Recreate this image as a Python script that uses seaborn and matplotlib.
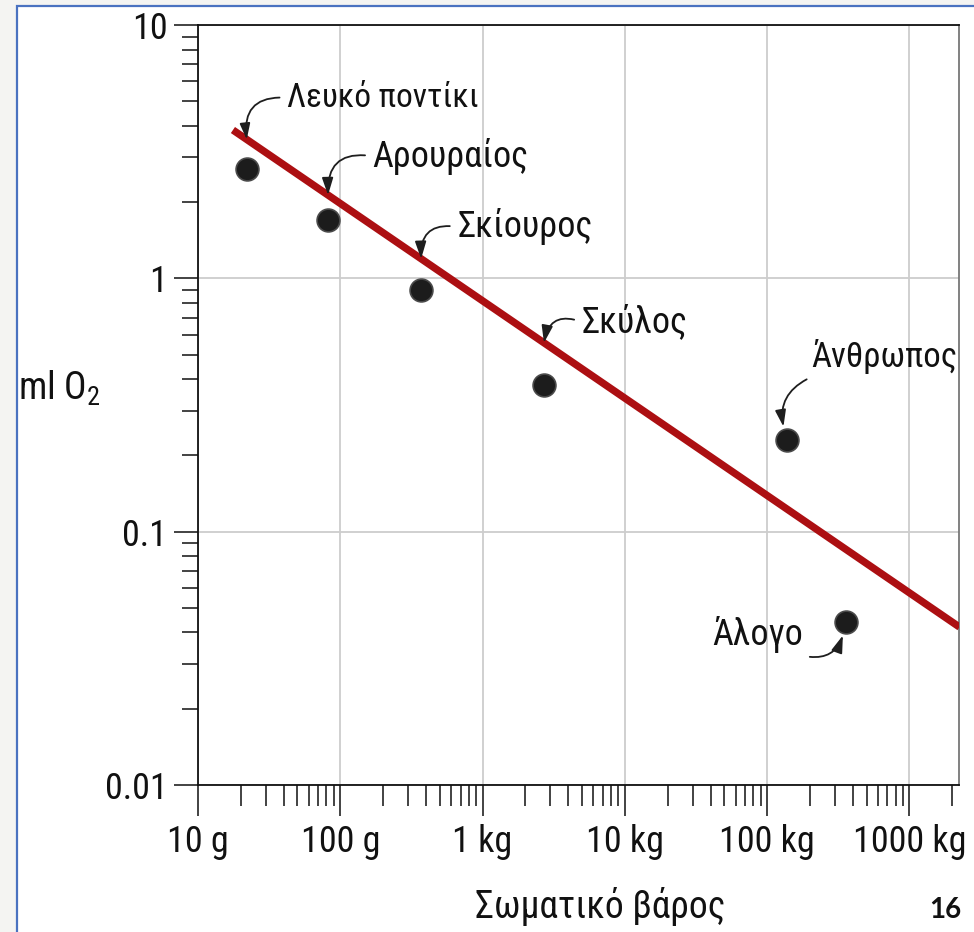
import numpy as np
import matplotlib
matplotlib.use('Agg')
import matplotlib.pyplot as plt
import matplotlib.ticker as mticker
from matplotlib.patches import Rectangle
import pandas as pd
import seaborn as sns

# data (mass in kg, oxygen in ml)
animals = ['Λευκό ποντίκι', 'Αρουραίος', 'Σκίουρος', 'Σκύλος', 'Άνθρωπος', 'Άλογο']
mass_kg = [0.022, 0.082, 0.37, 2.7, 138, 360]
o2_ml = [2.7, 1.7, 0.9, 0.38, 0.23, 0.044]

# red trend line end points
line_mass = [0.0176, 2250]
line_o2 = [3.85, 0.042]

xticks = [0.01, 0.1, 1, 10, 100, 1000]
xlabels = ['10 g', '100 g', '1 kg', '10 kg', '100 kg', '1000 kg']
yticks = [0.01, 0.1, 1, 10]
ylabels = ['0.01', '0.1', '1', '10']

df = pd.DataFrame({'animal': animals, 'mass': mass_kg, 'o2': o2_ml})
fit = pd.DataFrame({'mass': line_mass, 'o2': line_o2})

sns.set_style('ticks')
plt.rcParams['font.family'] = ['Roboto Condensed', 'Liberation Sans', 'DejaVu Sans']
plt.rcParams['mathtext.fontset'] = 'custom'
plt.rcParams['mathtext.rm'] = 'Roboto Condensed'

fig = plt.figure(figsize=(9.74, 9.32), dpi=100, facecolor='#f4f4f2')
fig.patches.append(Rectangle((17 / 974, -0.2), 1.3, 1.2 - 6 / 932, transform=fig.transFigure,
                             facecolor='white', edgecolor='#4a72c0', lw=1.6, zorder=-5))
ax = fig.add_axes([198 / 974, 1 - 785 / 932, 761 / 974, 760 / 932])
ax.set_facecolor('white')

sns.lineplot(data=fit, x='mass', y='o2', ax=ax, color='#ac0f12', lw=5.3,
             solid_capstyle='butt', zorder=3)
sns.scatterplot(data=df, x='mass', y='o2', ax=ax, s=270, color='#1c1c1c',
                edgecolor='#4a4a4a', linewidth=1.2, zorder=4)

ax.set_xscale('log')
ax.set_yscale('log')
ax.set_xlim(0.01, 2230)
ax.set_ylim(0.01, 10)
ax.set_xticks(xticks, xlabels)
ax.set_yticks(yticks, ylabels)
ax.xaxis.set_minor_formatter(mticker.NullFormatter())
ax.yaxis.set_minor_formatter(mticker.NullFormatter())
ax.set_xlabel('')
ax.set_ylabel('')

ax.grid(which='major', color='#cdcdcd', lw=1.3)
ax.set_axisbelow(True)
ax.tick_params(which='both', width=1.2, color='#222222', labelsize=26, labelcolor='#111111')
ax.tick_params(axis='y', which='major', length=17, pad=5)
ax.tick_params(axis='y', which='minor', length=11.5)
ax.tick_params(axis='x', which='major', length=22, pad=6)
ax.tick_params(axis='x', which='minor', length=15)
for side in ['left', 'bottom', 'top']:
    ax.spines[side].set_color('#111111')
    ax.spines[side].set_linewidth(1.3)
ax.spines['right'].set_color('#777777')
ax.spines['right'].set_linewidth(1.3)


def line_at(m):
    return 10 ** np.interp(np.log10(m), np.log10(line_mass), np.log10(line_o2))


# label placement: (offset in points, ha, relpos, target on line?, rad, size)
label_style = {
    'Λευκό ποντίκι': ((29, 30), 'left', (0, 0.5), True, 0.6, 24),
    'Αρουραίος': ((32, 28), 'left', (0, 0.5), True, 0.6, 26),
    'Σκίουρος': ((26, 23), 'left', (0, 0.5), True, 0.6, 26),
    'Σκύλος': ((27, 15), 'left', (0, 0.5), True, 0.6, 26),
    'Άνθρωπος': ((70, 60), 'center', (0.05, 0), False, 0.5, 25),
    'Άλογο': ((-64, -9), 'center', (0.9, 0), False, 0.6, 26),
}
for name, m, v in zip(animals, mass_kg, o2_ml):
    off, ha, rel, on_line, rad, size = label_style[name]
    target = (m, line_at(m)) if on_line else (m, v)
    ax.annotate(name, xy=target, xytext=off, textcoords='offset points',
                ha=ha, va='center', fontsize=size, color='#111111', zorder=5,
                arrowprops=dict(arrowstyle='-|>,head_length=0.4,head_width=0.13',
                                color='#1e1e1e', lw=1.3, relpos=rel,
                                shrinkA=3, shrinkB=0 if on_line else 10,
                                connectionstyle=f'arc3,rad={rad}'))

fig.text(18 / 974, 1 - 388 / 932, r'ml O$_{\mathrm{2}}$', fontsize=27,
         ha='left', va='center', color='#111111')
fig.text(475 / 974, 1 - 906 / 932, 'Σωματικό βάρος', fontsize=27,
         ha='left', va='center', color='#111111')
fig.text(945 / 974, 1 - 910 / 932, '16', fontsize=20, fontweight='bold',
         family=['Lato', 'DejaVu Sans'], ha='center', va='center', color='#111111')

fig.savefig('out.png', dpi=100, facecolor=fig.get_facecolor())
